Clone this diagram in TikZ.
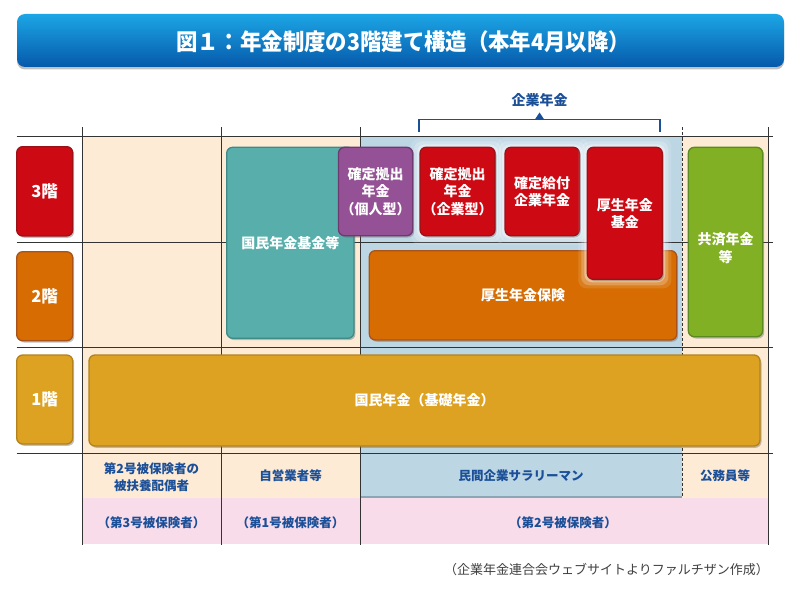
\documentclass[tikz,border=0pt]{standalone}
\usepackage{fontspec}
\setmainfont{Noto Sans CJK JP}
\usetikzlibrary{shadows}
\definecolor{cred}{HTML}{CD0A14}
\definecolor{credd}{HTML}{9A1218}
\definecolor{corg}{HTML}{D76D02}
\definecolor{corgd}{HTML}{A9521A}
\definecolor{cgold}{HTML}{DDA221}
\definecolor{cgoldd}{HTML}{B3821E}
\definecolor{cteal}{HTML}{57AEAB}
\definecolor{ctealdd}{HTML}{3F8986}
\definecolor{cpur}{HTML}{945195}
\definecolor{cpurd}{HTML}{6C3A6E}
\definecolor{cgrn}{HTML}{82B024}
\definecolor{cgrnd}{HTML}{5C8A22}
\definecolor{cblue}{HTML}{BDD6E4}
\definecolor{cblued}{HTML}{8DA6B6}
\definecolor{cpeach}{HTML}{FDEBD5}
\definecolor{cpink}{HTML}{F9DCEA}
\definecolor{ctxt}{HTML}{1B4F98}
\definecolor{cline}{HTML}{333333}
\definecolor{ttop}{HTML}{1CA6E6}
\definecolor{tbot}{HTML}{0659AA}
\newcommand{\glowbox}[4]{%
  \foreach \g/\o in {9/0.12,6/0.22,3/0.35}{%
    \fill[white, opacity=\o, rounded corners=8pt] (#1-#3/2-\g, #2-#4/2-\g) rectangle (#1+#3/2+\g, #2+#4/2+\g);
  }}
\tikzset{
  box/.style={rounded corners=6pt, line width=1.3pt, inner sep=0pt, text=white,
    font=\bfseries\fontsize{14}{17.3}\selectfont, align=center,
    drop shadow={shadow xshift=1.5pt, shadow yshift=-1.8pt, opacity=0.4, fill=black!60}},
  lvbox/.style={box, font=\bfseries\fontsize{16.5}{20}\selectfont},
  wtxt/.style={text=white, font=\bfseries\fontsize{14}{17.3}\selectfont, align=center, inner sep=0pt},
  btxt/.style={text=ctxt, font=\bfseries\fontsize{12.5}{17.3}\selectfont, align=center, inner sep=0pt},
  grid/.style={cline, line width=0.9pt},
}
\begin{document}
\begin{tikzpicture}[x=1pt,y=-1pt]
\useasboundingbox (0,0) rectangle (800,599);
\fill[white] (0,0) rectangle (800,599);
% title
\node[rounded corners=8pt, top color=ttop, bottom color=tbot, minimum width=767pt, minimum height=53pt, inner sep=0pt,
  drop shadow={shadow xshift=0pt, shadow yshift=-2.5pt, opacity=0.35, fill=black!70}] (title) at (400.5,40.5) {};
\node[text=white, font=\bfseries\fontsize{23}{26}\selectfont, inner sep=0pt] (titletext) at (403,42)
  {\scalebox{0.93}[1]{図１：年金制度の3階建て構造（本年4月以降）}};
% backgrounds
\fill[cpeach] (82,137) rectangle (360,498);
\fill[cpeach] (682,137) rectangle (768,498);
\fill[cblue] (360,137) rectangle (682,497);
\draw[cblued, line width=2pt] (361,497) -- (682,497);
\fill[cpink] (82,498) rectangle (768,544);
% grid lines
\foreach \yy in {136.7,242.3,347.5,453.3}{\draw[grid] (16.5,\yy) -- (773,\yy);}
\foreach \xx in {82.3,221.5,360.5,768.3}{\draw[grid] (\xx,127.5) -- (\xx,544.5);}
\draw[grid, dash pattern=on 3pt off 2pt] (682.5,127.5) -- (682.5,497);
% bracket
\coordinate (bl) at (419,132);
\coordinate (br) at (660,132);
\draw[ctxt, line width=1.3pt] (bl) -- (419,119.5) -- (660,119.5) -- (br);
\fill[ctxt] (534.5,120) -- (539.5,112.5) -- (544.5,120) -- cycle;
\node[text=ctxt, font=\bfseries\fontsize{14}{17}\selectfont, inner sep=0pt] (kigyo) at (539.5,100) {企業年金};
% level boxes
\node[lvbox, fill=cred, draw=credd, minimum width=56pt, minimum height=89.3pt] (lv3) at (44.7,191.3) {3階};
\node[lvbox, fill=corg, draw=corgd, minimum width=56pt, minimum height=89pt] (lv2) at (44.7,296.2) {2階};
\node[lvbox, fill=cgold, draw=cgoldd, minimum width=56pt, minimum height=89pt] (lv1) at (44.7,399.5) {1階};
% glows
\glowbox{457.5}{191.5}{75}{88.4}
\glowbox{542.2}{191.5}{74.3}{88.4}
% boxes
\node[box, fill=cteal, draw=ctealdd, minimum width=127.3pt, minimum height=191pt] (kikin) at (290.3,242.8) {国民年金基金等};
\node[box, fill=cpur, draw=cpurd, minimum width=74.2pt, minimum height=88.4pt] (idc) at (375.6,191.5) {確定拠出\\年金\\（個人型）};
\node[box, fill=cred, draw=credd, minimum width=75pt, minimum height=88.4pt] (cdc) at (457.5,191.5) {確定拠出\\年金\\（企業型）};
\node[box, fill=cred, draw=credd, minimum width=74.3pt, minimum height=88.4pt] (db) at (542.2,191.5) {確定給付\\企業年金};
\node[box, fill=corg, draw=corgd, minimum width=307.4pt, minimum height=89.3pt] (kosei) at (523,295.3) {厚生年金保険};
\glowbox{624.8}{213.3}{75}{132}
\node[box, fill=cred, draw=credd, minimum width=75pt, minimum height=132pt] (kikin2) at (624.8,213.3) {厚生年金\\基金};
\node[box, fill=cgrn, draw=cgrnd, minimum width=74.4pt, minimum height=189.4pt] (kyosai) at (725.5,242) {};
\node[wtxt] (kyosaitxt) at (725.5,248) {共済年金\\等};
\node[box, fill=cgold, draw=cgoldd, minimum width=671pt, minimum height=91pt] (kiso) at (424.5,400.5) {国民年金（基礎年金）};
% bottom labels
\node[btxt] (c3) at (151.5,477) {第2号被保険者の\\被扶養配偶者};
\node[btxt] (c1) at (290.5,476) {自営業者等};
\node[btxt] (c2) at (521,476) {民間企業サラリーマン};
\node[btxt] (c4) at (725,476) {公務員等};
\node[btxt] (p3) at (151.5,522.7) {（第3号被保険者）};
\node[btxt] (p1) at (290.5,522.7) {（第1号被保険者）};
\node[btxt] (p2) at (563,522.7) {（第2号被保険者）};
% footnote
\node[text=black!75, font=\fontsize{13}{15}\selectfont, inner sep=0pt] (note) at (606.5,570) {（企業年金連合会ウェブサイトよりファルチザン作成）};
\end{tikzpicture}
\end{document}
